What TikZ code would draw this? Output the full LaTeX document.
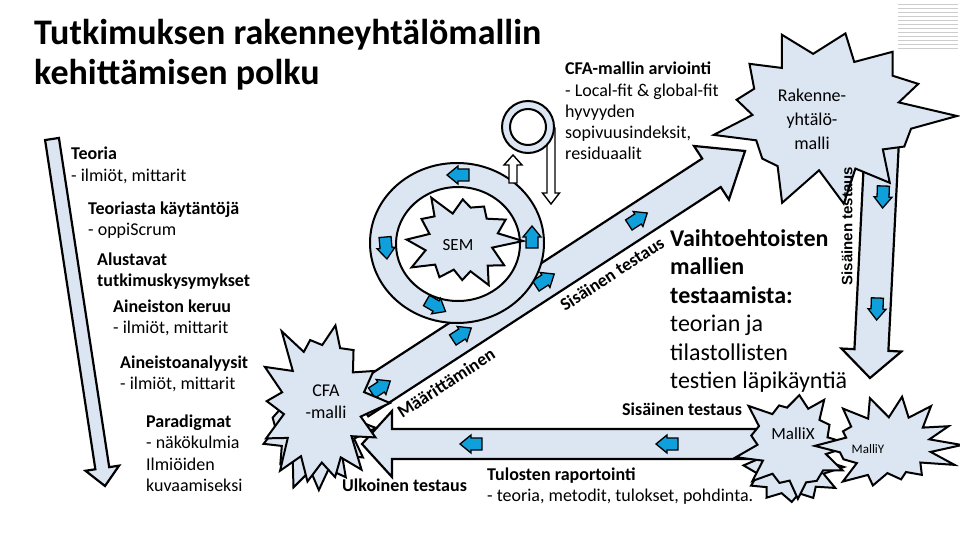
\documentclass[tikz,border=0pt]{standalone}
\usepackage{fontspec}
\setmainfont{Carlito}
\newfontfamily\arialfont{Liberation Sans}
\usetikzlibrary{calc}

\definecolor{paleblue}{HTML}{DCE6F2}
\definecolor{tipblue}{HTML}{0FA0DC}

% block arrow: [style]{start}{tip}{half shaft}{head length}{half head}
\newcommand\blockarrow[6][]{%
  \coordinate (ba-h) at ($(#3)!#5!(#2)$);
  \filldraw[bigarr,#1] ($(#2)!#4!90:(#3)$) -- ($(ba-h)!#4!90:(#3)$) -- ($(ba-h)!#6!90:(#3)$) -- (#3)
    -- ($(ba-h)!#6!-90:(#3)$) -- ($(ba-h)!#4!-90:(#3)$) -- ($(#2)!#4!-90:(#3)$) -- cycle;}
% small blue arrow: {position}{angle}
\newcommand\miniarrow[2]{%
  \filldraw[tiparr,shift={(#1)},rotate=#2] (-11,-6) -- (0,-6) -- (0,-9) -- (11,0) -- (0,9) -- (0,6) -- (-11,6) -- cycle;}
% explosion: {centre}{x radius}{y radius}{points}{seed}{inner factor}
\newcommand\explosion[6]{%
  \pgfmathsetseed{#5}%
  \pgfmathtruncatemacro\lastpt{2*#4-1}%
  \filldraw[burstfill,shift={(#1)}] (0:#2 and #3)
    \foreach \i [evaluate=\i as \f using {mod(\i,2)==0 ? 0.66+0.34*rnd : #6+0.12*rnd},
                 evaluate=\i as \a using {\i*180/#4+(rnd-0.5)*60/#4}] in {1,...,\lastpt}
    { -- (\a:\f*#2 and \f*#3) } -- cycle;}

\begin{document}
\begin{tikzpicture}[x=1pt,y=-1pt,
  bigarr/.style={fill=paleblue,draw=black,line width=2.2pt},
  thinarr/.style={fill=white,draw=black,line width=1.4pt},
  tiparr/.style={fill=tipblue,draw=black,line width=1.3pt},
  burstfill/.style={fill=paleblue,draw=black,line width=2pt},
  burstlbl/.style={inner sep=0pt,align=center,font=\fontsize{18}{22}\selectfont},
  txt/.style={inner sep=0pt,anchor=base west,align=left,font=\fontsize{18}{21.5}\selectfont},
  big/.style={inner sep=0pt,anchor=base west,align=left,font=\fontsize{24}{28.5}\selectfont},
  lab/.style={inner sep=0pt,font=\bfseries\fontsize{18}{21.5}\selectfont}]
\fill[white] (0,0) rectangle (960,540);
\useasboundingbox (0,0) rectangle (960,540);
\foreach \k in {0,...,11} \draw[gray!40,line width=0.8pt] (898,4+4*\k) -- (958,4+4*\k);

% title
\node[inner sep=0pt,anchor=base west,align=left,font=\bfseries\fontsize{36}{40}\selectfont] (title) at (34,85)
  {Tutkimuksen rakenneyhtälömallin\\kehittämisen polku};

% long arrows
\coordinate (lt) at (52,139);
\coordinate (lb) at (105,486);
\blockarrow{lt}{lb}{7pt}{18pt}{17pt}
\coordinate (hs) at (770,444);
\coordinate (ht) at (362,444);
\blockarrow{hs}{ht}{15pt}{30pt}{33pt}
\miniarrow{471,444}{180}
\miniarrow{667,444}{180}

% diagonal band
\coordinate (bs) at (359,402);
\coordinate (be) at (745,151);
\blockarrow{bs}{be}{17pt}{40pt}{32pt}
\miniarrow{381,387}{33}
\miniarrow{462,334}{33}
\miniarrow{545,280}{33}
\miniarrow{638,219}{33}

% ring with SEM
\filldraw[fill=paleblue,draw=black,line width=2pt] (457,243) ellipse [x radius=87pt,y radius=80pt];
\filldraw[fill=white,draw=black,line width=2pt] (458,244) ellipse [x radius=62pt,y radius=57pt];
\miniarrow{458,175}{180}
\miniarrow{386,248}{-85}
\miniarrow{436,306}{-30}
\miniarrow{532,237}{90}
\explosion{461,241}{62}{56}{12}{7}{0.5}
\node[burstlbl,font=\fontsize{17}{20}\selectfont] (sem) at (458,245) {SEM};

% small loop above
\coordinate (ds) at (551,128);
\coordinate (dt) at (551,204);
\blockarrow[thinarr]{ds}{dt}{4pt}{11pt}{8.5pt}
\coordinate (us) at (513,183);
\coordinate (ut) at (513,155);
\blockarrow[thinarr]{us}{ut}{4pt}{10pt}{9pt}
\filldraw[fill=paleblue,draw=black,line width=2pt,even odd rule] (528,127) circle [radius=26pt] circle [radius=18pt];

% right arrow down
\coordinate (rs) at (882,140);
\coordinate (rt) at (870,378);
\blockarrow{rs}{rt}{17pt}{28pt}{30pt}
\miniarrow{883,197}{-92}
\miniarrow{877,309}{-92}

% stars
\explosion{827,116}{130}{94}{13}{5}{0.55}
\node[burstlbl,font=\fontsize{18}{24}\selectfont] (rakenne) at (812,119) {Rakenne-\\yhtälö-\\malli};
\explosion{314,428}{62}{70}{13}{11}{0.55}
\explosion{322,403}{68}{90}{14}{3}{0.55}
\node[burstlbl] (cfa) at (326,402) {CFA\\-malli};

\node[txt] (tulos) at (487,501.5) {\textbf{Tulosten raportointi}\\- teoria, metodit, tulokset, pohdinta.};
\explosion{790,467}{54}{44}{12}{9}{0.55}
\explosion{793,445}{60}{60}{13}{21}{0.55}
\node[burstlbl,font=\fontsize{17}{20}\selectfont] (mallix) at (793,434) {MalliX};
\explosion{888,445}{74}{50}{14}{17}{0.55}
\node[burstlbl,font=\fontsize{13}{16}\selectfont] (malliy) at (868,449) {MalliY};

% texts left
\node[txt] (teoria) at (71,181.5) {\textbf{Teoria}\\- ilmiöt, mittarit};
\node[txt] (kaytanto) at (88,235.5) {\textbf{Teoriasta käytäntöjä}\\- oppiScrum};
\node[txt] (alustavat) at (97,286.5) {\textbf{Alustavat}\\\textbf{tutkimuskysymykset}};
\node[txt] (keruu) at (113,333.5) {\textbf{Aineiston keruu}\\- ilmiöt, mittarit};
\node[txt] (analyysi) at (120,389.5) {\textbf{Aineistoanalyysit}\\- ilmiöt, mittarit};
\node[txt] (paradigma) at (146,491.5) {\textbf{Paradigmat}\\- näkökulmia\\Ilmiöiden\\kuvaamiseksi};

% texts right
\node[txt,font=\fontsize{18}{21.2}\selectfont] (arviointi) at (565,159.8) {\textbf{CFA-mallin arviointi}\\- Local-fit \& global-fit\\hyvyyden\\sopivuusindeksit,\\residuaalit};
\node[big] (vaihto) at (670,388.5) {\textbf{Vaihtoehtoisten}\\\textbf{mallien}\\\textbf{testaamista:}\\teorian ja\\tilastollisten\\testien läpikäyntiä};

% labels
\node[lab,rotate=33] (sis1) at (612,274) {Sisäinen testaus};
\node[lab,rotate=33] (maar) at (446,383) {Määrittäminen};
\node[lab,anchor=base west] (sis2) at (622,415) {Sisäinen testaus};
\node[lab,anchor=base west] (ulko) at (342,491) {Ulkoinen testaus};
\node[inner sep=0pt,rotate=90,font=\arialfont\bfseries\fontsize{15}{18}\selectfont] (sis3) at (847,226) {Sisäinen testaus};
\end{tikzpicture}
\end{document}
